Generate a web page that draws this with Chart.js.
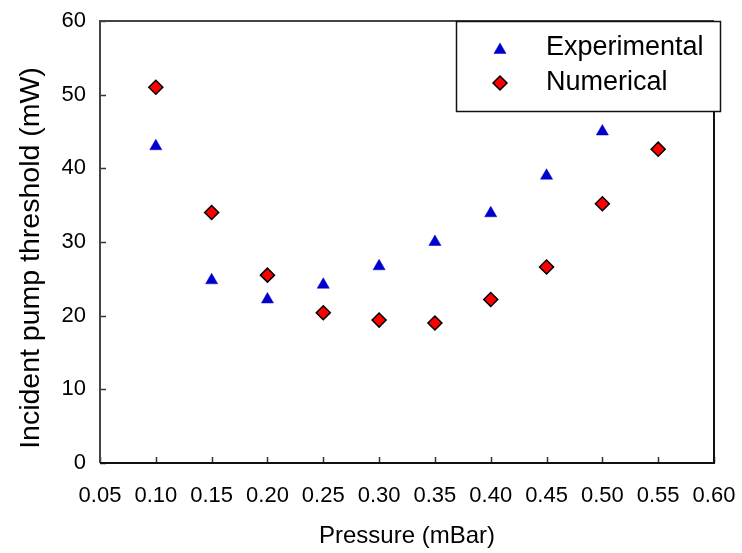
<!DOCTYPE html>
<html>
<head>
<meta charset="utf-8">
<script src="https://cdn.jsdelivr.net/npm/chart.js@4/dist/chart.umd.min.js"></script>
<style>
  html, body { margin: 0; padding: 0; background: #fff; }
  #wrap { width: 742px; height: 553px; }
</style>
</head>
<body>
<div id="wrap"><canvas id="c" width="742" height="553"></canvas></div>
<script>
// ---- data ----
const expPressure = [0.10, 0.15, 0.20, 0.25, 0.30, 0.35, 0.40, 0.45, 0.50];
const expThreshold = [43.0, 24.8, 22.2, 24.2, 26.7, 30.0, 33.9, 39.0, 45.0];
const numPressure = [0.10, 0.15, 0.20, 0.25, 0.30, 0.35, 0.40, 0.45, 0.50, 0.55];
const numThreshold = [51.0, 34.0, 25.5, 20.4, 19.4, 19.0, 22.2, 26.6, 35.2, 42.6];
const seriesLabels = ['Experimental', 'Numerical'];
const xTitle = 'Pressure (mBar)';
const yTitle = 'Incident pump threshold (mW)';

const FONT = "'Liberation Sans', Arial, sans-serif";

const toPts = (xs, ys) => xs.map((x, i) => ({ x: x, y: ys[i] }));

function legendMarker(ctx, ds, x, y) {
  ctx.save();
  ctx.fillStyle = ds.backgroundColor;
  ctx.strokeStyle = ds.borderColor;
  ctx.lineWidth = ds.pointBorderWidth;
  Chart.helpers.drawPoint(ctx, { pointStyle: ds.pointStyle, radius: ds.pointRadius, borderWidth: ds.pointBorderWidth }, x, y);
  ctx.restore();
}

// inward ticks, frame, y title and boxed legend
const framePlugin = {
  id: 'frame',
  afterDraw(chart) {
    const ctx = chart.ctx;
    const a = chart.chartArea;
    const xs = chart.scales.x, ys = chart.scales.y;
    ctx.save();
    ctx.lineWidth = 1.5;
    ctx.strokeStyle = '#333';
    ys.ticks.forEach(t => {
      const py = Math.round(ys.getPixelForValue(t.value)) + 0.5;
      ctx.beginPath(); ctx.moveTo(a.left, py); ctx.lineTo(a.left + 6, py); ctx.stroke();
    });
    xs.ticks.forEach(t => {
      const px = Math.round(xs.getPixelForValue(t.value)) + 0.5;
      ctx.beginPath(); ctx.moveTo(px, a.bottom); ctx.lineTo(px, a.bottom - 6); ctx.stroke();
    });
    ctx.lineWidth = 2;
    ctx.strokeStyle = '#444';
    ctx.beginPath(); ctx.moveTo(a.left, a.bottom); ctx.lineTo(a.left, a.top); ctx.lineTo(a.right, a.top); ctx.stroke();
    ctx.strokeStyle = '#111';
    ctx.beginPath(); ctx.moveTo(a.left, a.bottom); ctx.lineTo(a.right, a.bottom); ctx.lineTo(a.right, a.top); ctx.stroke();

    // y-axis title (slightly below the axis centre, as in the reference)
    ctx.save();
    ctx.translate(31, (a.top + a.bottom) / 2 + 16);
    ctx.rotate(-Math.PI / 2);
    ctx.fillStyle = '#000';
    ctx.font = '28.5px ' + FONT;
    ctx.textAlign = 'center';
    ctx.textBaseline = 'middle';
    ctx.fillText(yTitle, 0, 0);
    ctx.restore();

    const lx = a.right - 258, ly = a.top, lw = 264, lh = 90;
    ctx.fillStyle = '#fff';
    ctx.fillRect(lx, ly, lw, lh);
    ctx.lineWidth = 1.5;
    ctx.strokeStyle = '#111';
    ctx.strokeRect(lx + 0.5, ly + 0.5, lw, lh);
    chart.data.datasets.forEach((ds, i) => {
      const cy = ly + 27 + i * 35;
      legendMarker(ctx, ds, lx + 44, cy + (ds.pointStyle === 'triangle' ? 2 : 0));
      ctx.fillStyle = '#000';
      ctx.font = '27px ' + FONT;
      ctx.textBaseline = 'middle';
      ctx.textAlign = 'left';
      ctx.fillText(ds.label, lx + 90, cy);
    });
    ctx.restore();
  }
};

new Chart(document.getElementById('c'), {
  type: 'scatter',
  data: {
    datasets: [
      {
        label: seriesLabels[0],
        data: toPts(expPressure, expThreshold),
        pointStyle: 'triangle',
        pointRadius: 7,
        pointHoverRadius: 7,
        backgroundColor: '#0000CC',
        borderColor: '#0000CC',
        pointBorderWidth: 0.5
      },
      {
        label: seriesLabels[1],
        data: toPts(numPressure, numThreshold),
        pointStyle: 'rectRot',
        pointRadius: 7,
        pointHoverRadius: 7,
        backgroundColor: '#FF0000',
        borderColor: '#000000',
        pointBorderWidth: 1.5
      }
    ]
  },
  options: {
    responsive: false,
    animation: false,
    events: [],
    layout: { padding: { top: 21, right: 28, left: 0, bottom: 0 } },
    plugins: { legend: { display: false }, tooltip: { enabled: false } },
    scales: {
      x: {
        type: 'linear',
        min: 0.05, max: 0.60,
        grid: { display: false, drawTicks: false },
        border: { display: false },
        ticks: {
          stepSize: 0.05,
          padding: 20,
          color: '#000',
          font: { family: FONT, size: 22 },
          maxRotation: 0,
          autoSkip: false,
          callback: v => Number(v).toFixed(2)
        },
        title: {
          display: true, text: xTitle, color: '#000',
          font: { family: FONT, size: 24 },
          padding: { top: 8, bottom: 2 }
        },
        afterFit: s => { s.height = 90; s.paddingLeft = 0; s.paddingRight = 0; }
      },
      y: {
        type: 'linear',
        min: 0, max: 60,
        grid: { display: false, drawTicks: false },
        border: { display: false },
        ticks: {
          stepSize: 10,
          padding: 14,
          color: '#000',
          font: { family: FONT, size: 22 }
        },
        title: { display: false },
        afterFit: s => { s.width = 100; s.paddingTop = 0; s.paddingBottom = 0; }
      }
    }
  },
  plugins: [framePlugin]
});
</script>
</body>
</html>
